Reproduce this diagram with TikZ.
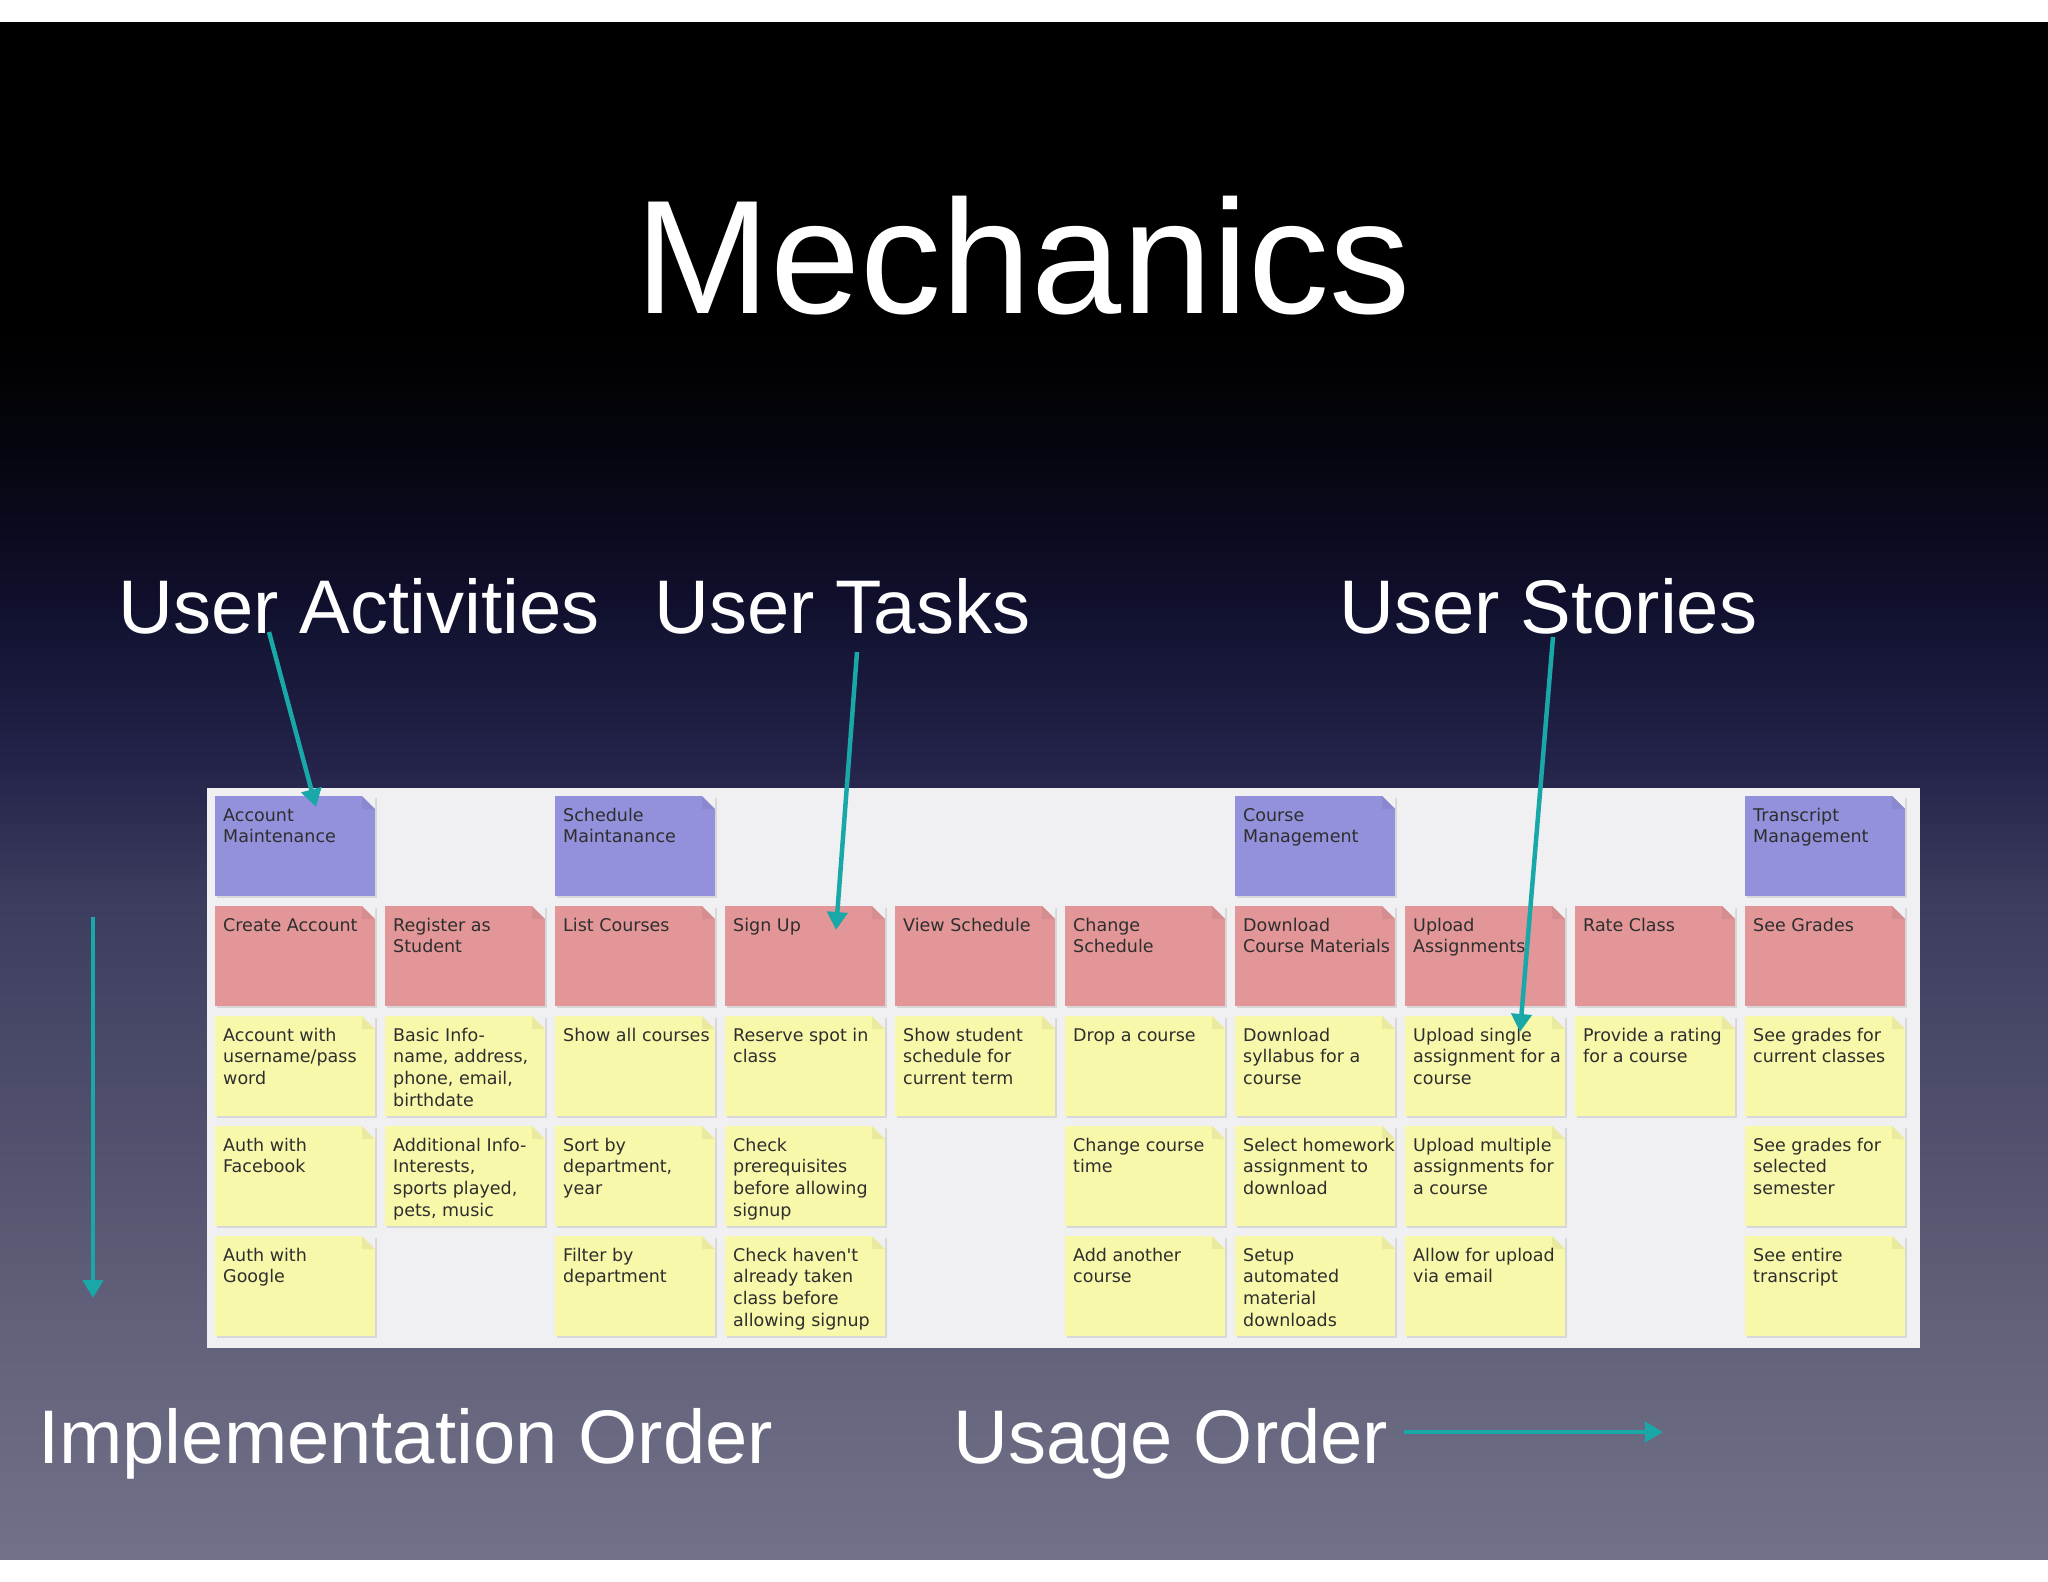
\documentclass[tikz,border=0pt]{standalone}
\usepackage{fontspec}
\usetikzlibrary{arrows.meta,shadows}
\setmainfont{Liberation Sans}
\newfontfamily\cardfont{DejaVu Sans}

\definecolor{notepurple}{HTML}{9391DC}
\definecolor{notepink}{HTML}{E39698}
\definecolor{noteyellow}{HTML}{F8F8AA}
\definecolor{board}{HTML}{F0F0F2}
\definecolor{inkgray}{HTML}{2E2E2E}
\definecolor{arrowteal}{HTML}{19A7A7}
\definecolor{bg0}{HTML}{717189}
\definecolor{bg1}{HTML}{5F5F79}
\definecolor{bg2}{HTML}{3C3C5E}
\definecolor{bg3}{HTML}{23234A}
\definecolor{bg4}{HTML}{10102E}
\definecolor{bg5}{HTML}{05050F}

\pgfdeclareverticalshading{slidebg}{100bp}{color(0bp)=(bg0); color(25bp)=(bg0);
  color(33.5bp)=(bg1); color(46.5bp)=(bg2); color(51bp)=(bg3); color(56bp)=(bg4);
  color(61bp)=(bg5); color(65bp)=(black); color(100bp)=(black)}

% one sticky note: name, column, row, colour, text
\newcommand{\stickynote}[5]{%
  \node[note=#4] (#1) at ({215+170*(#2-1)},{796+110*(#3-1)}) {};
  \node[notetext] (#1-t) at ([xshift=8pt,yshift=-9.8pt]#1.north west) {\strut #5};
}

\begin{document}
\begin{tikzpicture}[x=1pt,y=-1pt,
  note/.style={anchor=north west, fill=#1, minimum width=160, minimum height=100,
    inner sep=0, outer sep=0,
    drop shadow={shadow xshift=1.5pt, shadow yshift=-2pt, opacity=.22},
    path picture={
      \fill[board] ([xshift=-13pt]path picture bounding box.north east)
        -- (path picture bounding box.north east)
        -- ([yshift=-13pt]path picture bounding box.north east) -- cycle;
      \fill[#1!94!black] ([xshift=-13pt]path picture bounding box.north east)
        -- ([xshift=-13pt,yshift=-13pt]path picture bounding box.north east)
        -- ([yshift=-13pt]path picture bounding box.north east) -- cycle;
    }},
  notetext/.style={anchor=north west, inner sep=0, align=left, text=inkgray,
    font=\cardfont\fontsize{17.5}{21.7}\selectfont},
  slide/.style={inner sep=0, text=white, font=\fontsize{76}{80}\selectfont},
  flow/.style={draw=arrowteal, line width=4.5pt, -{Triangle[length=18pt,width=20pt]}}]

  % Slide
  \useasboundingbox (0,0) rectangle (2048,1582);
  \fill[white] (0,0) rectangle (2048,1582);
  \shade[shading=slidebg] (0,22) rectangle (2048,1559);

  \node[slide, anchor=base, font=\fontsize{162}{170}\selectfont] (title) at (1023,313) {Mechanics};

  % Board
  \fill[board] (207,788) rectangle (1920,1348);

  % Activities
  \stickynote{am}{1}{1}{notepurple}{Account\\Maintenance}
  \stickynote{sm}{3}{1}{notepurple}{Schedule\\Maintanance}
  \stickynote{cm}{7}{1}{notepurple}{Course\\Management}
  \stickynote{tm}{10}{1}{notepurple}{Transcript\\Management}

  % Tasks
  \stickynote{create}{1}{2}{notepink}{Create Account}
  \stickynote{register}{2}{2}{notepink}{Register as\\Student}
  \stickynote{list}{3}{2}{notepink}{List Courses}
  \stickynote{signup}{4}{2}{notepink}{Sign Up}
  \stickynote{view}{5}{2}{notepink}{View Schedule}
  \stickynote{change}{6}{2}{notepink}{Change\\Schedule}
  \stickynote{download}{7}{2}{notepink}{Download\\Course Materials}
  \stickynote{upload}{8}{2}{notepink}{Upload\\Assignments}
  \stickynote{rate}{9}{2}{notepink}{Rate Class}
  \stickynote{grades}{10}{2}{notepink}{See Grades}

  % Stories
  \stickynote{acct}{1}{3}{noteyellow}{Account with\\username/pass\\word}
  \stickynote{basic}{2}{3}{noteyellow}{Basic Info-\\name, address,\\phone, email,\\birthdate}
  \stickynote{showall}{3}{3}{noteyellow}{Show all courses}
  \stickynote{reserve}{4}{3}{noteyellow}{Reserve spot in\\class}
  \stickynote{showsched}{5}{3}{noteyellow}{Show student\\schedule for\\current term}
  \stickynote{drop}{6}{3}{noteyellow}{Drop a course}
  \stickynote{syllabus}{7}{3}{noteyellow}{Download\\syllabus for a\\course}
  \stickynote{single}{8}{3}{noteyellow}{Upload single\\assignment for a\\course}
  \stickynote{rating}{9}{3}{noteyellow}{Provide a rating\\for a course}
  \stickynote{curgrades}{10}{3}{noteyellow}{See grades for\\current classes}

  \stickynote{facebook}{1}{4}{noteyellow}{Auth with\\Facebook}
  \stickynote{addinfo}{2}{4}{noteyellow}{Additional Info-\\Interests,\\sports played,\\pets, music}
  \stickynote{sortby}{3}{4}{noteyellow}{Sort by\\department,\\year}
  \stickynote{prereq}{4}{4}{noteyellow}{Check\\prerequisites\\before allowing\\signup}
  \stickynote{changetime}{6}{4}{noteyellow}{Change course\\time}
  \stickynote{homework}{7}{4}{noteyellow}{Select homework\\assignment to\\download}
  \stickynote{multiple}{8}{4}{noteyellow}{Upload multiple\\assignments for\\a course}
  \stickynote{semester}{10}{4}{noteyellow}{See grades for\\selected\\semester}

  \stickynote{google}{1}{5}{noteyellow}{Auth with\\Google}
  \stickynote{filter}{3}{5}{noteyellow}{Filter by\\department}
  \stickynote{taken}{4}{5}{noteyellow}{Check haven\textquotesingle t\\already taken\\class before\\allowing signup}
  \stickynote{addcourse}{6}{5}{noteyellow}{Add another\\course}
  \stickynote{setup}{7}{5}{noteyellow}{Setup\\automated\\material\\downloads}
  \stickynote{email}{8}{5}{noteyellow}{Allow for upload\\via email}
  \stickynote{transcript}{10}{5}{noteyellow}{See entire\\transcript}

  % Labels
  \node[slide, anchor=base west] (ua) at (118,633) {User Activities};
  \node[slide, anchor=base west] (ut) at (654,633) {User Tasks};
  \node[slide, anchor=base west] (us) at (1339,633) {User Stories};
  \node[slide, anchor=base west] (io) at (38,1463) {Implementation Order};
  \node[slide, anchor=base west] (uo) at (953,1463) {Usage Order};

  % Arrows
  \coordinate (ua-s) at (269,632);
  \coordinate (ut-s) at (857,652);
  \coordinate (us-s) at (1553,637);
  \coordinate (am-e) at ([shift={(101,11)}]am.north west);
  \coordinate (signup-e) at ([shift={(111,24)}]signup.north west);
  \coordinate (single-e) at ([shift={(115,16)}]single.north west);
  \coordinate (io-s) at (93,917);
  \coordinate (io-e) at (93,1298);
  \coordinate (uo-s) at (1404,1432);
  \coordinate (uo-e) at (1663,1432);

  \draw[flow] (ua-s) -- (am-e);
  \draw[flow] (ut-s) -- (signup-e);
  \draw[flow] (us-s) -- (single-e);
  \draw[flow] (io-s) -- (io-e);
  \draw[flow] (uo-s) -- (uo-e);
\end{tikzpicture}
\end{document}
